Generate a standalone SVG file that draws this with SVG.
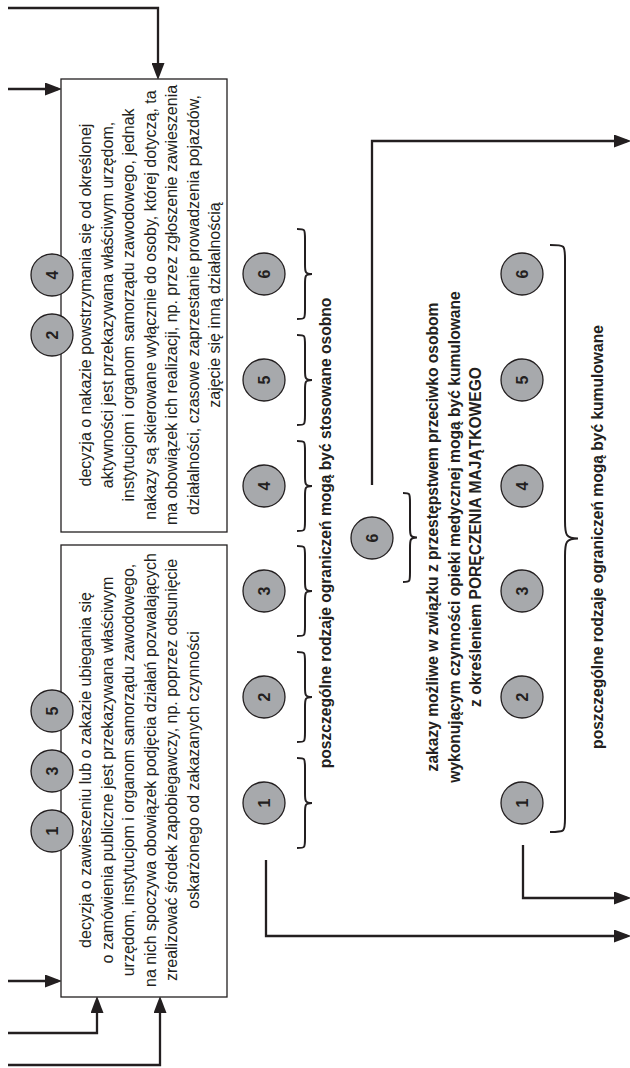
<svg xmlns="http://www.w3.org/2000/svg" width="630" height="1068" viewBox="0 0 630 1068">
<style>
  .box{fill:#fff;stroke:#231f20;stroke-width:1.3}
  .c{fill:#a7a9ac;stroke:#231f20;stroke-width:1.3}
  .n{font-family:"Liberation Sans",Arial,sans-serif;font-size:16px;font-weight:bold;fill:#231f20;text-anchor:middle}
  .t{font-family:"Liberation Sans",Arial,sans-serif;font-size:16px;fill:#231f20;text-anchor:middle}
  .b{font-family:"Liberation Sans",Arial,sans-serif;font-size:15.6px;font-weight:bold;fill:#231f20;text-anchor:middle}
  .br{fill:none;stroke:#231f20;stroke-width:2}
  .ln{fill:none;stroke:#231f20;stroke-width:2.3}
</style>
<defs>
  <marker id="ah" markerUnits="userSpaceOnUse" markerWidth="17" markerHeight="13" refX="13" refY="6.5" orient="auto">
    <path d="M0,0 L17,6.5 L0,13 Z" fill="#231f20"/>
  </marker>
</defs>
<rect width="630" height="1068" fill="#fff"/>
<g transform="translate(0,1068) rotate(-90)">
  <g id="connectors">
    <path class="ln" d="M1060,8 L1060,158 L992,158" marker-end="url(#ah)"/>
    <path class="ln" d="M979,8 L979,58" marker-end="url(#ah)"/>
    <path class="ln" d="M87,8 L87,58" marker-end="url(#ah)"/>
    <path class="ln" d="M35,8 L35,97 L68,97" marker-end="url(#ah)"/>
    <path class="ln" d="M3,8 L3,160 L68,160" marker-end="url(#ah)"/>
    <path class="ln" d="M583,372 L927,372 L927,627" marker-end="url(#ah)"/>
    <path class="ln" d="M208,266 L132,266 L132,627" marker-end="url(#ah)"/>
    <path class="ln" d="M223,523 L170,523 L170,627" marker-end="url(#ah)"/>
  </g>

  <g id="boxA">
    <rect class="box" x="71" y="61" width="452" height="166"/>
    <text class="t" x="298" y="91">decyzja o zawieszeniu lub o zakazie ubiegania się</text>
    <text class="t" x="298" y="112.5">o zamówienia publiczne jest przekazywana właściwym</text>
    <text class="t" x="298" y="134">urzędom, instytucjom i organom samorządu zawodowego,</text>
    <text class="t" x="298" y="155.5">na nich spoczywa obowiązek podjęcia działań pozwalających</text>
    <text class="t" x="298" y="177">zrealizować środek zapobiegawczy, np. poprzez odsunięcie</text>
    <text class="t" x="298" y="198.5">oskarżonego od zakazanych czynności</text>
    <circle class="c" cx="237" cy="52" r="21"/><text class="n" x="237" y="58">1</text>
    <circle class="c" cx="297" cy="52" r="21"/><text class="n" x="297" y="58">3</text>
    <circle class="c" cx="357" cy="52" r="21"/><text class="n" x="357" y="58">5</text>
  </g>

  <g id="boxB">
    <rect class="box" x="536" y="61" width="453" height="166"/>
    <text class="t" x="763" y="91">decyzja o nakazie powstrzymania się od określonej</text>
    <text class="t" x="763" y="112.5">aktywności  jest przekazywana właściwym urzędom,</text>
    <text class="t" x="763" y="134">instytucjom i organom samorządu zawodowego, jednak</text>
    <text class="t" x="763" y="155.5">nakazy są skierowane wyłącznie do osoby, której dotyczą, ta</text>
    <text class="t" x="763" y="177">ma obowiązek ich realizacji, np. przez zgłoszenie zawieszenia</text>
    <text class="t" x="763" y="198.5">działalności,  czasowe zaprzestanie prowadzenia pojazdów,</text>
    <text class="t" x="763" y="220">zajęcie się inną działalnością</text>
    <circle class="c" cx="733" cy="52" r="21"/><text class="n" x="733" y="58">2</text>
    <circle class="c" cx="793" cy="52" r="21"/><text class="n" x="793" y="58">4</text>
  </g>

  <g id="separate">
    <circle class="c" cx="265" cy="264" r="21"/><text class="n" x="265" y="270">1</text>
    <circle class="c" cx="371" cy="264" r="21"/><text class="n" x="371" y="270">2</text>
    <circle class="c" cx="477" cy="264" r="21"/><text class="n" x="477" y="270">3</text>
    <circle class="c" cx="582" cy="264" r="21"/><text class="n" x="582" y="270">4</text>
    <circle class="c" cx="688" cy="264" r="21"/><text class="n" x="688" y="270">5</text>
    <circle class="c" cx="794" cy="264" r="21"/><text class="n" x="794" y="270">6</text>
    <path class="br" d="M220,297 C220,305 220,305 230,305 L255,305 C263,305 265,305 265,312 C265,305 267,305 275,305 L300,305 C310,305 310,305 310,297"/>
    <path class="br" d="M326,297 C326,305 326,305 336,305 L361,305 C369,305 371,305 371,312 C371,305 373,305 381,305 L406,305 C416,305 416,305 416,297"/>
    <path class="br" d="M432,297 C432,305 432,305 442,305 L467,305 C475,305 477,305 477,312 C477,305 479,305 487,305 L512,305 C522,305 522,305 522,297"/>
    <path class="br" d="M537,297 C537,305 537,305 547,305 L572,305 C580,305 582,305 582,312 C582,305 584,305 592,305 L617,305 C627,305 627,305 627,297"/>
    <path class="br" d="M643,297 C643,305 643,305 653,305 L678,305 C686,305 688,305 688,312 C688,305 690,305 698,305 L723,305 C733,305 733,305 733,297"/>
    <path class="br" d="M749,297 C749,305 749,305 759,305 L784,305 C792,305 794,305 794,312 C794,305 796,305 804,305 L829,305 C839,305 839,305 839,297"/>
    <text class="b" x="535" y="331">poszczególne rodzaje ograniczeń mogą być stosowane osobno</text>
  </g>

  <g id="medical">
    <circle class="c" cx="530" cy="372" r="21"/><text class="n" x="530" y="378">6</text>
    <path class="br" d="M486,403 C486,410 486,410 496,410 L520,410 C528,410 530.5,410 530.5,417 C530.5,410 533,410 541,410 L565,410 C575,410 575,410 575,403"/>
    <text class="b" x="531" y="438">zakazy możliwe w związku z przestępstwem przeciwko osobom</text>
    <text class="b" x="531" y="459.5">wykonującym czynności opieki medycznej mogą być kumulowane</text>
    <text class="b" x="531" y="481">z określeniem PORĘCZENIA MAJĄTKOWEGO</text>
  </g>

  <g id="cumulative">
    <circle class="c" cx="265" cy="522" r="21"/><text class="n" x="265" y="528">1</text>
    <circle class="c" cx="371" cy="522" r="21"/><text class="n" x="371" y="528">2</text>
    <circle class="c" cx="477" cy="522" r="21"/><text class="n" x="477" y="528">3</text>
    <circle class="c" cx="582" cy="522" r="21"/><text class="n" x="582" y="528">4</text>
    <circle class="c" cx="688" cy="522" r="21"/><text class="n" x="688" y="528">5</text>
    <circle class="c" cx="794" cy="522" r="21"/><text class="n" x="794" y="528">6</text>
    <path class="br" d="M236,550 C236,565 236,565 250,565 L512,565 C526,565 529.5,566 529.5,578 C529.5,566 533,565 547,565 L809,565 C823,565 823,565 823,550"/>
    <text class="b" x="531" y="603">poszczególne rodzaje ograniczeń mogą być kumulowane</text>
  </g>
</g>
</svg>
